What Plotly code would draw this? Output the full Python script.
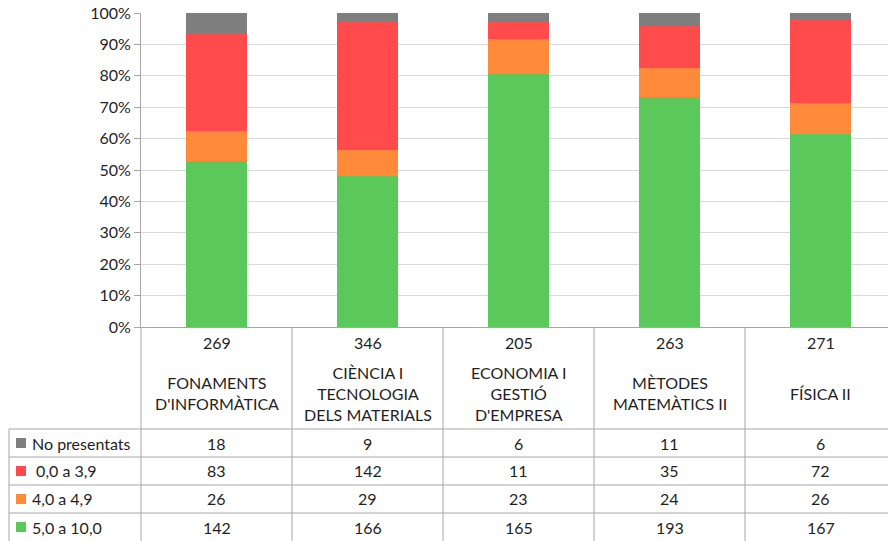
import plotly.graph_objects as go

categories = ["FONAMENTS<br>D'INFORMÀTICA", "CIÈNCIA I<br>TECNOLOGIA<br>DELS MATERIALS",
              "ECONOMIA I<br>GESTIÓ<br>D'EMPRESA", "MÈTODES<br>MATEMÀTICS II", "FÍSICA II"]
series_names = ["No presentats", " 0,0 a 3,9", "4,0 a 4,9", "5,0 a 10,0"]
no_presentats = [18, 9, 6, 11, 6]
suspens = [83, 142, 11, 35, 72]
quatre = [26, 29, 23, 24, 26]
aprovats = [142, 166, 165, 193, 167]
colors = ["#7F7F7F", "#FF4B4B", "#FF8B3A", "#5AC85A"]
y_ticks = [0, 10, 20, 30, 40, 50, 60, 70, 80, 90, 100]
y_tick_labels = [f"{v}%" for v in y_ticks]

series_values = [no_presentats, suspens, quatre, aprovats]
totals = [sum(v) for v in zip(*series_values)]

W, H = 888, 541
L, T, B = 141, 13, 214
plot_w = W - L
plot_h = H - T - B
cat_px = 151.0
span = plot_w / cat_px
xs = list(range(len(categories)))

FONT = "Lato"
FS = 16
TXT = "#1f1f1f"
GRID = "#d9d9d9"
LINE = "#a6a6a6"

fig = go.Figure()
# stack bottom-to-top: green, orange, red, gray
for idx in [3, 2, 1, 0]:
    fig.add_trace(go.Bar(x=xs, y=series_values[idx], name=series_names[idx],
                         marker=dict(color=colors[idx], line=dict(width=0)),
                         width=0.4, showlegend=False, hoverinfo="skip"))

def py(pix):
    return (H - B - pix) / plot_h

def px(pix):
    return (pix - L) / plot_w

shapes = []
annotations = []
table_bottom = py(H)
for i in range(len(categories)):
    shapes.append(dict(type="line", xref="x", yref="paper", x0=i + 0.5, x1=i + 0.5,
                       y0=0, y1=table_bottom, line=dict(color=LINE, width=1)))
shapes.append(dict(type="line", xref="paper", yref="paper", x0=0, x1=0,
                   y0=0, y1=table_bottom, line=dict(color=LINE, width=1)))
row_tops = [429, 457, 485, 513]
for rt in row_tops:
    shapes.append(dict(type="line", xref="paper", yref="paper", x0=px(9), x1=1,
                       y0=py(rt), y1=py(rt), line=dict(color=LINE, width=1)))
shapes.append(dict(type="line", xref="paper", yref="paper", x0=px(9), x1=px(9),
                   y0=py(429), y1=table_bottom, line=dict(color=LINE, width=1)))

for i in xs:
    annotations.append(dict(x=i, y=py(342), xref="x", yref="paper", text=str(totals[i]),
                            showarrow=False, font=dict(family=FONT, size=FS, color=TXT),
                            xanchor="center", yanchor="middle"))
    annotations.append(dict(x=i, y=py(393), xref="x", yref="paper", text=categories[i],
                            showarrow=False, font=dict(family=FONT, size=FS, color=TXT),
                            xanchor="center", yanchor="middle", align="center"))

for r, (name, vals, col) in enumerate(zip(series_names, series_values, colors)):
    cy = row_tops[r] + 14
    shapes.append(dict(type="rect", xref="paper", yref="paper", x0=px(16), x1=px(26),
                       y0=py(cy - 5), y1=py(cy + 5), fillcolor=col, line=dict(width=0)))
    annotations.append(dict(x=px(30), y=py(cy), xref="paper", yref="paper", text=name,
                            showarrow=False, font=dict(family=FONT, size=FS, color=TXT),
                            xanchor="left", yanchor="middle"))
    for i in xs:
        annotations.append(dict(x=i, y=py(cy), xref="x", yref="paper", text=str(vals[i]),
                                showarrow=False, font=dict(family=FONT, size=FS, color=TXT),
                                xanchor="center", yanchor="middle"))

fig.update_layout(
    width=W, height=H, autosize=False,
    margin=dict(l=L, r=0, t=T, b=B, pad=0, autoexpand=False),
    barmode="stack", barnorm="percent",
    paper_bgcolor="white", plot_bgcolor="white",
    font=dict(family=FONT, size=FS, color=TXT),
    shapes=shapes, annotations=annotations,
    xaxis=dict(range=[-0.5, -0.5 + span], showticklabels=False, showgrid=False,
               zeroline=False, showline=True, linecolor=LINE, linewidth=1, ticks="",
               automargin=False),
    yaxis=dict(range=[0, 100], tickvals=y_ticks, ticktext=y_tick_labels, showgrid=True,
               gridcolor=GRID, gridwidth=1, zeroline=False, showline=True,
               linecolor=LINE, linewidth=1, ticks="outside", ticklen=6, tickcolor=LINE,
               ticklabeloverflow="allow", automargin=False,
               tickfont=dict(family=FONT, size=FS, color=TXT)),
)

fig.write_html("out.html", config={"displayModeBar": False},
               post_script="document.body.style.margin='0px';")
